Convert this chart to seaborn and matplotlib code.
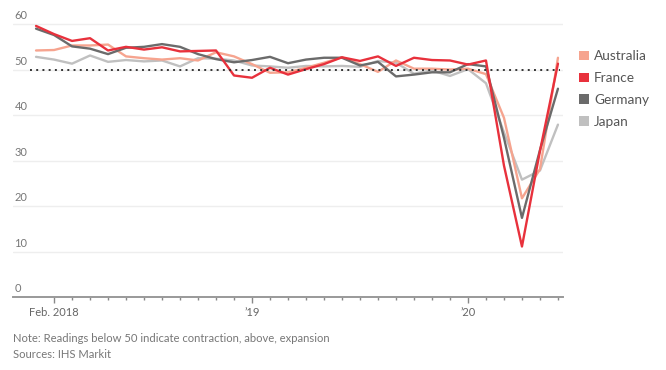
import numpy as np
import pandas as pd
import seaborn as sns
import matplotlib.pyplot as plt
from matplotlib.patches import Patch
from matplotlib.transforms import ScaledTranslation

# composite PMI, monthly Jan 2018 - Jun 2020
months = pd.date_range("2018-01-01", "2020-06-01", freq="MS")
australia = [54.2, 54.3, 55.3, 55.3, 55.5, 52.9, 52.5, 52.2, 52.5, 52.0, 53.8, 52.9,
             51.2, 49.3, 49.4, 50.4, 51.5, 52.7, 51.2, 49.5, 52.0, 50.2, 50.2, 50.0,
             50.2, 49.0, 39.4, 21.7, 28.1, 52.6]
france = [59.6, 57.8, 56.3, 56.9, 54.2, 55.0, 54.4, 54.9, 54.0, 54.1, 54.2, 48.7,
          48.2, 50.4, 48.9, 50.1, 51.2, 52.7, 51.9, 52.9, 50.8, 52.6, 52.1, 52.0,
          51.1, 52.0, 28.9, 11.1, 32.1, 51.3]
germany = [59.0, 57.6, 55.1, 54.6, 53.4, 54.8, 55.0, 55.6, 55.0, 53.4, 52.3, 51.6,
           52.1, 52.8, 51.4, 52.2, 52.6, 52.6, 50.9, 51.7, 48.5, 48.9, 49.4, 49.4,
           51.2, 50.7, 35.0, 17.4, 32.3, 45.8]
japan = [52.8, 52.2, 51.3, 53.1, 51.7, 52.1, 51.8, 52.0, 50.7, 52.5, 52.4, 52.0,
         50.9, 50.7, 50.4, 50.8, 50.7, 50.8, 50.6, 51.9, 51.5, 49.1, 49.8, 48.6,
         50.1, 47.0, 36.2, 25.8, 27.8, 37.9]
countries = ["Australia", "France", "Germany", "Japan"]
colors = {"Australia": "#f6a48f", "France": "#e8313c", "Germany": "#6b6b6b", "Japan": "#c0c0c0"}
yticks = [0, 10, 20, 30, 40, 50, 60]
xlabels = {1: "Feb. 2018", 12: "\u201919", 24: "\u201920"}

idx = np.arange(len(months))
df = pd.DataFrame({"i": np.tile(idx, 4),
                   "country": np.repeat(countries, len(months)),
                   "pmi": australia + france + germany + japan})

sns.set_style("white")
plt.rcParams["font.family"] = ["Lato", "DejaVu Sans"]

fig = plt.figure(figsize=(6.66, 3.70), dpi=100)
ax = fig.add_axes([13 / 666, 1 - 297 / 370, 550 / 666, (297 - 15) / 370])

# France drawn last so it sits on top
order = ["Japan", "Australia", "Germany", "France"]
sns.lineplot(data=df, x="i", y="pmi", hue="country", hue_order=order,
             palette=colors, linewidth=1.7, legend=False, ax=ax)

ax.axhline(50, xmin=0.03, xmax=0.995, color="#333333", lw=1.4, ls=(0, (1, 2.2)), zorder=5)

ax.set_xlim(-1.28, 29.28)
ax.set_ylim(0, 62)
ax.set_yticks(yticks)
ax.yaxis.grid(True, color="#eeeeee", lw=1)
ax.set_yticklabels([str(t) for t in yticks], ha="left", va="bottom", color="#777777", fontsize=8)
ax.tick_params(axis="y", length=0, pad=-1)
# labels sit just above their gridline
for lab in ax.get_yticklabels():
    lab.set_transform(lab.get_transform() + ScaledTranslation(0, 2 / 72, fig.dpi_scale_trans))

ax.set_xticks(idx[1:], minor=True)
ax.set_xticks(list(xlabels.keys()))
ax.set_xticklabels(list(xlabels.values()), color="#666666", fontsize=8)
ax.tick_params(axis="x", which="both", bottom=True)
ax.tick_params(axis="x", which="major", direction="out", length=4, width=1, color="#888888", pad=3)
ax.tick_params(axis="x", which="minor", direction="out", length=2.5, width=1, color="#888888")

for s in ["top", "right", "left"]:
    ax.spines[s].set_visible(False)
ax.spines["bottom"].set_color("#999999")
ax.spines["bottom"].set_linewidth(1.4)
ax.set_xlabel("")
ax.set_ylabel("")

handles = [Patch(facecolor=colors[c], edgecolor="none", label=c) for c in countries]
leg = fig.legend(handles=handles, loc="upper left", bbox_to_anchor=(567 / 666, 1 - 38 / 370),
                 frameon=False, fontsize=9.8, handlelength=0.7, handleheight=0.7,
                 handletextpad=0.4, labelspacing=0.72)
for t in leg.get_texts():
    t.set_color("#555555")

fig.text(13 / 666, 1 - 338 / 370, "Note: Readings below 50 indicate contraction, above, expansion",
         fontsize=8.1, color="#777777", va="center")
fig.text(13 / 666, 1 - 355 / 370, "Sources: IHS Markit", fontsize=8.1, color="#777777", va="center")

fig.savefig("out.png", dpi=100)
